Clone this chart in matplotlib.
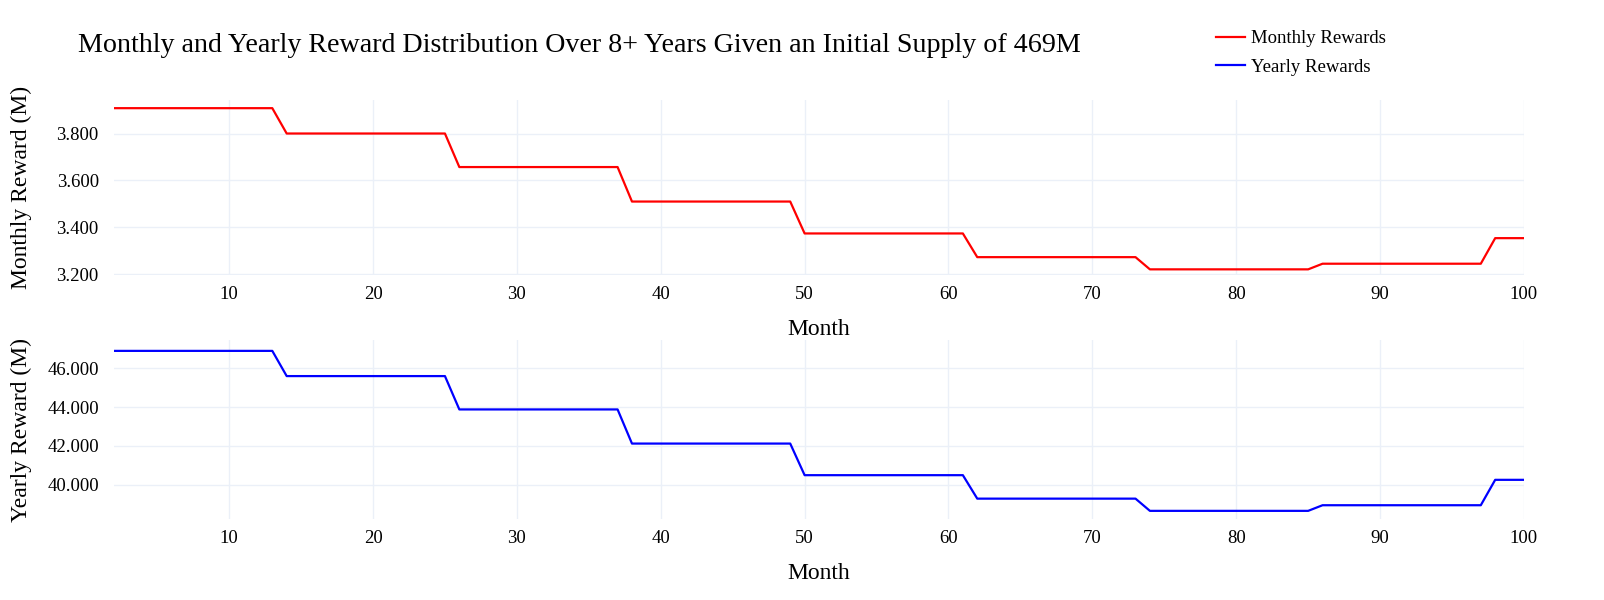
import numpy as np
import matplotlib
matplotlib.use('Agg')
import matplotlib.pyplot as plt

# niveles de recompensa por tramo
monthly_levels = [3.908, 3.800, 3.657, 3.510, 3.374, 3.273, 3.221, 3.245, 3.354]
yearly_levels = [46.90, 45.60, 43.88, 42.12, 40.49, 39.28, 38.65, 38.94, 40.25]
# meses que dura cada tramo, empezando en el mes 2
segment_lengths = [12, 12, 12, 12, 12, 12, 12, 12, 3]
first_month = 2

months = np.arange(first_month, first_month + sum(segment_lengths))
monthly = np.repeat(monthly_levels, segment_lengths)
yearly = np.repeat(yearly_levels, segment_lengths)

x_ticks = [10, 20, 30, 40, 50, 60, 70, 80, 90, 100]
monthly_ticks = [3.2, 3.4, 3.6, 3.8]
yearly_ticks = [40, 42, 44, 46]

plt.rcParams['font.family'] = ['Liberation Serif', 'DejaVu Serif']
grid_color = '#ebf0f8'

fig = plt.figure(figsize=(16.04, 6.0), dpi=100)
ax1 = fig.add_axes([0.0711, 0.5417, 0.879, 0.2917])
ax2 = fig.add_axes([0.0711, 0.135, 0.879, 0.2983])

def style(ax, ticks, ylim, ylabel):
    ax.set_xlim(first_month, 100)
    ax.set_ylim(*ylim)
    ax.set_xticks(x_ticks)
    ax.set_yticks(ticks)
    ax.set_yticklabels([f'{t:.3f}' for t in ticks])
    for s in ax.spines.values():
        s.set_visible(False)
    ax.grid(True, color=grid_color, linewidth=1)
    ax.set_axisbelow(True)
    ax.tick_params(length=0, labelsize=13.5, pad=8)
    ax.tick_params(axis='y', pad=11)
    ax.set_xlabel('Month', fontsize=17, labelpad=11.5)
    ax.set_ylabel(ylabel, fontsize=17)
    ax.yaxis.set_label_coords(-0.058, 0.5)

l1, = ax1.plot(months, monthly, color='red', linewidth=1.6, label='Monthly Rewards')
style(ax1, monthly_ticks, (3.197, 3.943), 'Monthly Reward (M)')

l2, = ax2.plot(months, yearly, color='blue', linewidth=1.6, label='Yearly Rewards')
style(ax2, yearly_ticks, (38.23, 47.46), 'Yearly Reward (M)')

fig.text(0.0486, 1 - 52 / 600, 'Monthly and Yearly Reward Distribution Over 8+ Years Given an Initial Supply of 469M',
         fontsize=20.2, ha='left', va='baseline')

fig.legend(handles=[l1, l2], loc='upper left', bbox_to_anchor=(0.7537, 0.9625),
           frameon=False, fontsize=13.5, handlelength=1.5, handletextpad=0.35,
           labelspacing=0.6, borderaxespad=0)

fig.savefig('out.png', dpi=100)
